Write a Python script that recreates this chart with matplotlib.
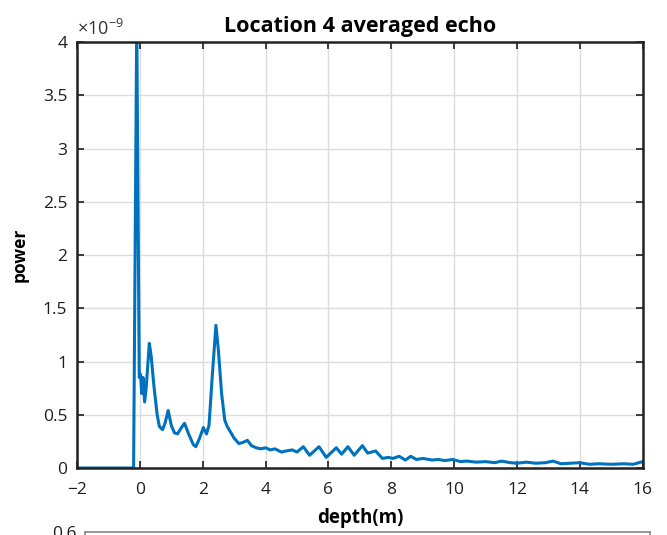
import matplotlib
matplotlib.use("Agg")
from matplotlib import pyplot as plt

# averaged echo (power in units of 1e-9)
depth = [-2.0, -0.2, -0.1, -0.02, 0.02, 0.06, 0.1, 0.15, 0.2, 0.3, 0.36, 0.45, 0.55, 0.62,
         0.72, 0.8, 0.9, 1.0, 1.1, 1.2, 1.3, 1.42, 1.55, 1.7, 1.78, 1.9, 2.02, 2.12, 2.2,
         2.3, 2.42, 2.5, 2.6, 2.7, 2.78, 2.9, 3.0, 3.15, 3.28, 3.42, 3.55, 3.7, 3.85, 4.0,
         4.15, 4.3, 4.5, 4.65, 4.85, 5.0, 5.2, 5.4, 5.7, 5.93, 6.25, 6.42, 6.62, 6.82, 7.08,
         7.25, 7.5, 7.72, 7.9, 8.05, 8.25, 8.45, 8.62, 8.8, 9.0, 9.3, 9.5, 9.7, 9.96, 10.2,
         10.4, 10.7, 11.0, 11.3, 11.5, 11.8, 12.0, 12.3, 12.6, 12.9, 13.15, 13.4, 13.7, 14.0,
         14.3, 14.6, 15.0, 15.4, 15.7, 16.0]
power = [0.0, 0.0, 4.2, 0.85, 0.88, 0.7, 0.85, 0.62, 0.75, 1.17, 1.05, 0.76, 0.5, 0.39,
         0.36, 0.42, 0.54, 0.4, 0.33, 0.32, 0.37, 0.42, 0.32, 0.22, 0.2, 0.28, 0.38, 0.32, 0.4,
         0.85, 1.34, 1.1, 0.7, 0.45, 0.39, 0.33, 0.28, 0.23, 0.24, 0.26, 0.21, 0.19, 0.18, 0.19,
         0.17, 0.18, 0.15, 0.16, 0.17, 0.15, 0.2, 0.12, 0.2, 0.1, 0.19, 0.13, 0.2, 0.12, 0.21,
         0.14, 0.16, 0.09, 0.1, 0.09, 0.11, 0.075, 0.11, 0.08, 0.09, 0.075, 0.08, 0.07, 0.08, 0.06,
         0.065, 0.055, 0.06, 0.05, 0.065, 0.05, 0.045, 0.055, 0.045, 0.05, 0.065, 0.04, 0.045, 0.05,
         0.035, 0.04, 0.035, 0.04, 0.035, 0.06]

xticks = [-2, 0, 2, 4, 6, 8, 10, 12, 14, 16]
yticks = [0, 0.5, 1, 1.5, 2, 2.5, 3, 3.5, 4]
ytick_labels = ["0", "0.5", "1", "1.5", "2", "2.5", "3", "3.5", "4"]

plt.rcParams["font.family"] = ["Open Sans", "DejaVu Sans"]
plt.rcParams["mathtext.fontset"] = "custom"
plt.rcParams["mathtext.rm"] = "Open Sans"

fig = plt.figure(figsize=(6.67, 5.35), dpi=100)
ax = fig.add_axes([0.1155, 0.1252, 0.848, 0.7963])

ax.plot(depth, power, color="#0072BD", linewidth=2.2)
ax.set_xlim(-2, 16)
ax.set_ylim(0, 4)
ax.set_xticks(xticks)
ax.set_yticks(yticks)
ax.set_yticklabels(ytick_labels)
ax.grid(True, color="#dcdcdc", linewidth=1)
ax.set_axisbelow(True)
ax.tick_params(direction="in", length=5, width=1.2, top=True, right=True,
               labelsize=12.5, colors="#1e1e1e")
ax.tick_params(axis="x", pad=10)
ax.tick_params(axis="y", pad=7)
for s in ax.spines.values():
    s.set_linewidth(1.8)
    s.set_color("#222222")

ax.set_title("Location 4 averaged echo", fontsize=15.5, fontweight="bold", pad=7)
ax.set_xlabel("depth(m)", fontsize=13.5, fontweight="bold", labelpad=7)
ax.set_ylabel("power", fontsize=12.5, fontweight="bold", labelpad=10)
ax.text(0.0, 1.008, r"$\times10^{-9}$", transform=ax.transAxes, fontsize=13,
        color="#333333", ha="left", va="bottom")

# top edge of the next subplot, cut off by the picture border
ax2 = fig.add_axes([0.127, -0.4, 0.848, 0.405])
ax2.set_xlim(-2, 16)
ax2.set_ylim(0, 0.6)
ax2.set_xticks([])
ax2.set_yticks([0.6])
ax2.set_yticklabels(["0.6"])
ax2.tick_params(direction="in", length=0, labelsize=12.5, colors="#1e1e1e", pad=6)
for s in ax2.spines.values():
    s.set_linewidth(1.2)
    s.set_color("#888888")

fig.savefig("out.png", dpi=100)
